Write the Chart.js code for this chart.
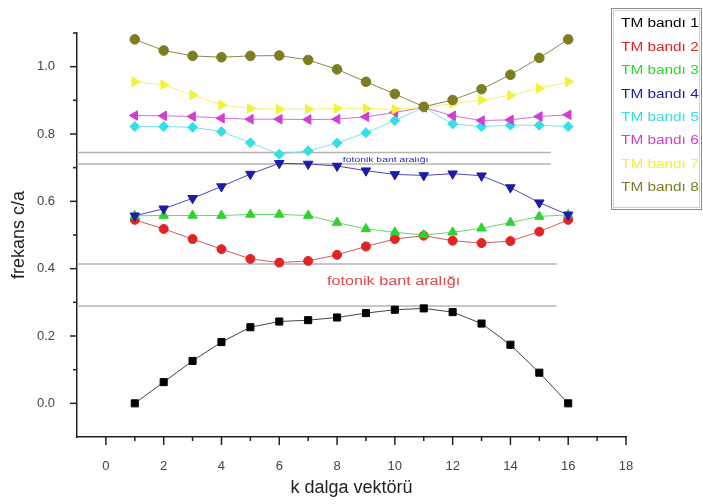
<!DOCTYPE html>
<html>
<head>
<meta charset="utf-8">
<script src="https://cdn.jsdelivr.net/npm/chart.js@4.4.1/dist/chart.umd.min.js"></script>
<style>
  html, body { margin: 0; padding: 0; background: #fff; }
  #wrap { width: 703px; height: 504px; }
</style>
</head>
<body>
<div id="wrap"><canvas id="bandChart" width="703" height="504"></canvas></div>
<script>
const kValues = [1, 2, 3, 4, 5, 6, 7, 8, 9, 10, 11, 12, 13, 14, 15, 16];

const band1 = [0.0, 0.063, 0.126, 0.182, 0.226, 0.243, 0.247, 0.255, 0.268, 0.278, 0.282, 0.271, 0.237, 0.174, 0.091, 0.0];
const band2 = [0.545, 0.518, 0.488, 0.458, 0.429, 0.418, 0.423, 0.441, 0.466, 0.488, 0.498, 0.483, 0.476, 0.482, 0.51, 0.545];
const band3 = [0.557, 0.558, 0.558, 0.558, 0.561, 0.561, 0.558, 0.537, 0.518, 0.508, 0.50, 0.508, 0.52, 0.537, 0.555, 0.56];
const band4 = [0.557, 0.578, 0.609, 0.644, 0.681, 0.713, 0.711, 0.705, 0.691, 0.680, 0.677, 0.682, 0.676, 0.641, 0.596, 0.56];
const band5 = [0.822, 0.822, 0.82, 0.807, 0.774, 0.74, 0.75, 0.773, 0.804, 0.84, 0.879, 0.83, 0.822, 0.826, 0.826, 0.822];
const band6 = [0.855, 0.854, 0.852, 0.847, 0.844, 0.844, 0.843, 0.844, 0.851, 0.864, 0.879, 0.854, 0.84, 0.842, 0.852, 0.857];
const band7 = [0.955, 0.946, 0.916, 0.886, 0.876, 0.874, 0.874, 0.876, 0.876, 0.873, 0.879, 0.89, 0.901, 0.915, 0.936, 0.955];
const band8 = [1.081, 1.048, 1.032, 1.028, 1.032, 1.033, 1.02, 0.992, 0.955, 0.919, 0.881, 0.901, 0.933, 0.976, 1.026, 1.081];

const bandLabels = ['TM bandı 1', 'TM bandı 2', 'TM bandı 3', 'TM bandı 4', 'TM bandı 5', 'TM bandı 6', 'TM bandı 7', 'TM bandı 8'];

// band gap edges (grey horizontal lines)
const gapLevels = [0.745, 0.711, 0.414, 0.289];
const gapStartK = -1;
const gapEndK = [15.4, 15.4, 15.6, 15.6];

const gapText = 'fotonik bant aralığı';

const xTickLabels = [0, 2, 4, 6, 8, 10, 12, 14, 16, 18];
const yTickLabels = [0.0, 0.2, 0.4, 0.6, 0.8, 1.0];

const bandValues = [band1, band2, band3, band4, band5, band6, band7, band8];
const bandColors = ['#000000', '#e02424', '#2ed42e', '#1c1ca8', '#33e0e6', '#d43cd4', '#f2f23a', '#7d7d22'];
const lineColors = ['#444444', '#d85a5a', '#66d666', '#4a4ab0', '#7ae4e8', '#d070d0', '#f0f080', '#8a8a4a'];
const pointStyles = ['rect', 'circle', 'triangle', 'triangle', 'rectRot', 'triangle', 'triangle', 'circle'];
const pointRotations = [0, 0, 0, 180, 0, -90, 90, 0];
const pointSizes = [5, 4.5, 5.5, 5.5, 5, 5.5, 5.5, 4.8];

const datasets = bandValues.map((vals, i) => ({
  label: bandLabels[i],
  data: vals.map((v, j) => ({ x: kValues[j], y: v })),
  borderColor: lineColors[i],
  borderWidth: 1,
  backgroundColor: bandColors[i],
  pointBackgroundColor: bandColors[i],
  pointBorderColor: bandColors[i],
  pointBorderWidth: 1,
  pointStyle: pointStyles[i],
  pointRotation: pointRotations[i],
  pointRadius: pointSizes[i],
  order: 9 - i
}));

gapLevels.forEach((g, i) => {
  datasets.push({
    label: 'gap' + i,
    data: [{ x: gapStartK, y: g }, { x: gapEndK[i], y: g }],
    borderColor: '#b4b4b4',
    borderWidth: 1.5,
    pointRadius: 0,
    order: 100
  });
});

// custom tick marks, legend box and gap annotations
const extrasPlugin = {
  id: 'extras',
  afterDraw(chart) {
    const ctx = chart.ctx;
    const xs = chart.scales.x;
    const ys = chart.scales.y;
    ctx.save();
    ctx.strokeStyle = '#222';
    ctx.lineWidth = 1.5;
    for (let k = -1; k <= 18; k++) {
      if (k === -1) continue;
      const px = xs.getPixelForValue(k);
      const len = xTickLabels.includes(k) ? 8 : 4;
      ctx.beginPath();
      ctx.moveTo(px, xs.top);
      ctx.lineTo(px, xs.top + len);
      ctx.stroke();
    }
    for (let t = 0; t <= 11; t++) {
      const v = t / 10;
      const py = ys.getPixelForValue(v);
      const len = (t % 2 === 0 && t <= 10) ? 7 : 4;
      ctx.beginPath();
      ctx.moveTo(ys.right, py);
      ctx.lineTo(ys.right - len, py);
      ctx.stroke();
    }

    // annotations
    ctx.textBaseline = 'middle';
    ctx.textAlign = 'left';
    ctx.save();
    ctx.translate(xs.getPixelForValue(8.2), ys.getPixelForValue(0.723));
    ctx.scale(1.3, 1);
    ctx.fillStyle = '#2a2ab0';
    ctx.font = '8px Arial, "Liberation Sans", sans-serif';
    ctx.fillText(gapText, 0, 0);
    ctx.restore();

    ctx.save();
    ctx.translate(xs.getPixelForValue(7.65), ys.getPixelForValue(0.362));
    ctx.scale(1.35, 1);
    ctx.fillStyle = '#e04848';
    ctx.font = '12px Arial, "Liberation Sans", sans-serif';
    ctx.fillText(gapText, 0, 0);
    ctx.restore();

    // legend
    ctx.strokeStyle = '#8a8a8a';
    ctx.lineWidth = 1;
    ctx.strokeRect(611.5, 8.5, 90, 201);
    ctx.strokeStyle = '#d0d0d0';
    ctx.strokeRect(613.5, 10.5, 86, 197);
    ctx.font = '12px Arial, "Liberation Sans", sans-serif';
    bandLabels.forEach((lab, i) => {
      ctx.save();
      ctx.translate(621, 24 + i * 23.4);
      ctx.scale(1.28, 1);
      ctx.fillStyle = bandColors[i];
      ctx.fillText(lab, 0, 0);
      ctx.restore();
    });
    ctx.restore();
  }
};

const bandChart = new Chart(document.getElementById('bandChart').getContext('2d'), {
  type: 'line',
  data: { datasets: datasets },
  options: {
    responsive: false,
    animation: false,
    layout: { padding: { left: 0, right: 77, top: 33, bottom: 0 } },
    plugins: {
      legend: { display: false },
      tooltip: { enabled: false },
      title: { display: false }
    },
    scales: {
      x: {
        type: 'linear',
        min: -1,
        max: 18,
        afterFit: (s) => { s.height = 67; },
        grid: { display: false },
        border: { display: true, color: '#222', width: 1.5 },
        ticks: {
          stepSize: 1,
          autoSkip: false,
          maxRotation: 0,
          padding: 14,
          color: '#444',
          font: { family: 'Arial, "Liberation Sans", sans-serif', size: 13 },
          callback: (v) => xTickLabels.includes(v) ? String(v) : ''
        },
        title: {
          display: true,
          text: 'k dalga vektörü',
          color: '#222',
          padding: { top: 0, bottom: 5 },
          font: { family: 'Arial, "Liberation Sans", sans-serif', size: 18 }
        }
      },
      y: {
        type: 'linear',
        min: -0.1,
        max: 1.1,
        afterFit: (s) => { s.width = 77; },
        grid: { display: false },
        border: { display: true, color: '#222', width: 1.5 },
        ticks: {
          stepSize: 0.1,
          autoSkip: false,
          padding: 14,
          color: '#444',
          font: { family: 'Arial, "Liberation Sans", sans-serif', size: 13 },
          callback: (v) => {
            const t = Math.round(v * 10);
            return yTickLabels.some(y => Math.round(y * 10) === t) ? (t / 10).toFixed(1) : '';
          }
        },
        title: {
          display: true,
          text: 'frekans c/a',
          color: '#222',
          padding: { top: 8, bottom: 0 },
          font: { family: 'Arial, "Liberation Sans", sans-serif', size: 18 }
        }
      }
    }
  },
  plugins: [extrasPlugin]
});
</script>
</body>
</html>
